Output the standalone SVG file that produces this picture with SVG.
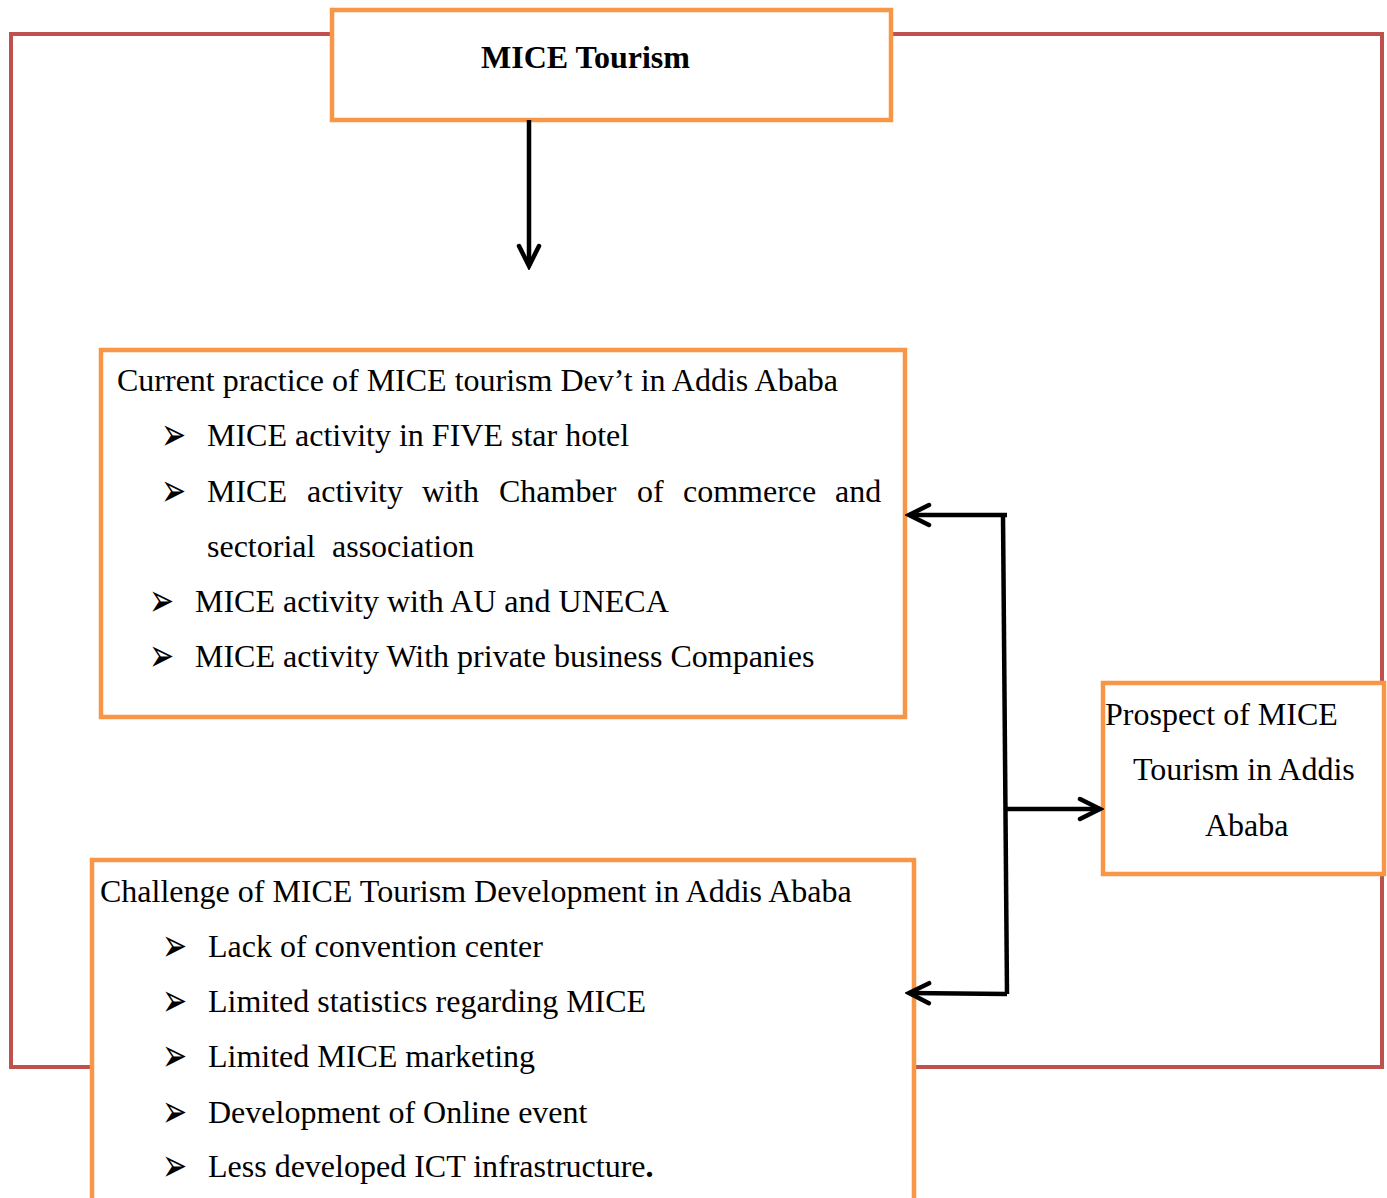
<svg xmlns="http://www.w3.org/2000/svg" width="1387" height="1198" viewBox="0 0 1387 1198">
<defs>
<style>
.box{fill:#fff;stroke:#F79646;stroke-width:4.5}
.t{font-family:"Liberation Serif","Times New Roman",serif;font-size:32px;fill:#000}
.b{font-family:"DejaVu Sans",sans-serif;font-size:40px;fill:#000}
.c{fill:none;stroke:#000;stroke-width:4.5;stroke-linejoin:miter}
</style>
<marker id="ah" markerUnits="userSpaceOnUse" viewBox="-24 -14 28 28" refX="0" refY="0" markerWidth="28" markerHeight="28" orient="auto">
<path d="M -20 -10 L 0 0 L -20 10" fill="none" stroke="#000" stroke-width="4.5" stroke-linecap="round"/>
</marker>
</defs>
<rect width="1387" height="1198" fill="#fff"/>
<rect id="frame" x="11" y="34" width="1371" height="1033" fill="none" stroke="#C0504D" stroke-width="4"/>
<g id="mice">
<rect class="box" x="332" y="10" width="559" height="110"/>
<text class="t" x="481" y="68" font-weight="bold">MICE Tourism</text>
</g>
<g id="current">
<rect class="box" x="101" y="350" width="804" height="367"/>
<text class="t" x="117" y="391">Current practice of MICE tourism Dev’t in Addis Ababa</text>
<text class="b" transform="translate(161 450) scale(0.75 1.15)">➢</text>
<text class="t" x="207" y="446">MICE activity in FIVE star hotel</text>
<text class="b" transform="translate(161 506) scale(0.75 1.15)">➢</text>
<text class="t" y="502"><tspan x="207">MICE</tspan><tspan x="307">activity</tspan><tspan x="422">with</tspan><tspan x="499">Chamber</tspan><tspan x="637">of</tspan><tspan x="683">commerce</tspan><tspan x="835">and</tspan></text>
<text class="t" y="557"><tspan x="207">sectorial</tspan><tspan x="332">association</tspan></text>
<text class="b" transform="translate(149 616) scale(0.75 1.15)">➢</text>
<text class="t" x="195" y="612">MICE activity with AU and UNECA</text>
<text class="b" transform="translate(149 671) scale(0.75 1.15)">➢</text>
<text class="t" x="195" y="667">MICE activity With private business Companies</text>
</g>
<g id="challenge">
<rect class="box" x="92" y="860" width="822" height="360"/>
<text class="t" x="100" y="902">Challenge of MICE Tourism Development in Addis Ababa</text>
<text class="b" transform="translate(162 961) scale(0.75 1.15)">➢</text>
<text class="t" x="208" y="957">Lack of convention center</text>
<text class="b" transform="translate(162 1016) scale(0.75 1.15)">➢</text>
<text class="t" x="208" y="1012">Limited statistics regarding MICE</text>
<text class="b" transform="translate(162 1071) scale(0.75 1.15)">➢</text>
<text class="t" x="208" y="1067">Limited MICE marketing</text>
<text class="b" transform="translate(162 1127) scale(0.75 1.15)">➢</text>
<text class="t" x="208" y="1123">Development of Online event</text>
<text class="b" transform="translate(162 1181) scale(0.75 1.15)">➢</text>
<text class="t" x="208" y="1177">Less developed ICT infrastructure<tspan font-weight="bold">.</tspan></text>
</g>
<g id="prospect">
<rect class="box" x="1103" y="683" width="281" height="191"/>
<text class="t" x="1105" y="725">Prospect of MICE</text>
<text class="t" x="1133" y="780">Tourism in Addis</text>
<text class="t" x="1205" y="836">Ababa</text>
</g>
<g id="connectors">
<path class="c" d="M 529 120 L 529 266" marker-end="url(#ah)"/>
<path class="c" d="M 1007 515 L 909 515" marker-end="url(#ah)"/>
<path class="c" d="M 1003 515 L 1007 994"/>
<path class="c" d="M 1007 994 L 909 993" marker-end="url(#ah)"/>
<path class="c" d="M 1005 809 L 1100 809" marker-end="url(#ah)"/>
</g>
</svg>
